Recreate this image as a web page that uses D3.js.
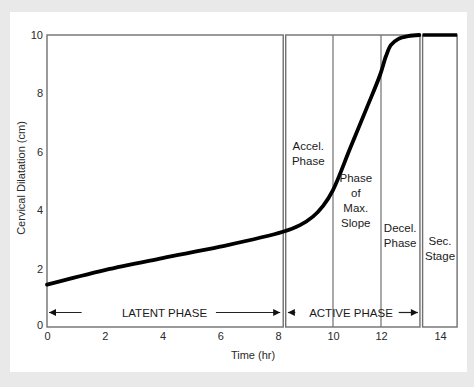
<!DOCTYPE html>
<html>
<head>
<meta charset="utf-8">
<script src="https://cdn.jsdelivr.net/npm/d3@7"></script>
<style>
  body { margin: 0; background: #e9e9e9; }
  svg { display: block; font-family: "Liberation Sans", Arial, sans-serif; }
</style>
</head>
<body>
<div id="chart"></div>
<script>
// data
const xTicks = [0, 2, 4, 6, 8, 10, 12, 14];
const yTicks = [0, 2, 4, 6, 8, 10];
const curveHours = [0, 2, 4, 6, 8.18, 8.8, 9.27, 9.64, 10.0, 10.71, 11.42, 11.96, 12.17, 12.34, 12.58, 12.92, 13.3];
const curveCm    = [1.45, 1.95, 2.36, 2.75, 3.26, 3.49, 3.78, 4.15, 4.69, 6.11, 7.53, 8.63, 9.28, 9.66, 9.86, 9.96, 10];
const secStageHours = [13.41, 14.58];
const secStageCm = [10, 10];
// boxes: [start hr, end hr]
const boxes = [[0, 8.19], [8.28, 13.32], [13.41, 14.58]];
const dividers = [10, 12];
const phaseLabels = [
  { lines: ["Accel.", "Phase"], x: 9.1, y: 6.05 },
  { lines: ["Phase", "of", "Max.", "Slope"], x: 10.95, y: 4.95 },
  { lines: ["Decel.", "Phase"], x: 12.65, y: 3.25 },
  { lines: ["Sec.", "Stage"], x: 14.0, y: 2.8 }
];

const width = 474, height = 387;

const svg = d3.select("#chart").append("svg")
  .attr("width", width)
  .attr("height", height);

// white panel
svg.append("rect")
  .attr("x", 10).attr("y", 12)
  .attr("width", 457).attr("height", 360)
  .attr("fill", "#fff");

// hand-drawn axis is not perfectly even, so piecewise scale
const x = d3.scaleLinear()
  .domain([0, 8, 10, 12, 14])
  .range([47, 278, 333, 381, 440]);
const y = d3.scaleLinear()
  .domain([0, 10])
  .range([327, 35]);

const frame = "#707070";

// phase boxes
svg.append("g").selectAll("rect")
  .data(boxes)
  .join("rect")
  .attr("x", d => x(d[0]))
  .attr("y", y(10))
  .attr("width", d => x(d[1]) - x(d[0]))
  .attr("height", y(0) - y(10))
  .attr("fill", "none")
  .attr("stroke", frame)
  .attr("stroke-width", 1.4);

svg.append("g").selectAll("line")
  .data(dividers)
  .join("line")
  .attr("x1", d => x(d)).attr("x2", d => x(d))
  .attr("y1", y(10)).attr("y2", y(0))
  .attr("stroke", frame)
  .attr("stroke-width", 1.2);

// axes (labels only, no tick marks)
const xAxis = svg.append("g")
  .attr("transform", `translate(0,${y(0) + 5})`)
  .call(d3.axisBottom(x).tickValues(xTicks).tickSize(0).tickPadding(0));
const yAxis = svg.append("g")
  .attr("transform", `translate(${x(0) - 4},0)`)
  .call(d3.axisLeft(y).tickValues(yTicks).tickSize(0).tickPadding(0));
[xAxis, yAxis].forEach(a => {
  a.select(".domain").remove();
  a.selectAll("text")
    .attr("font-family", "Liberation Sans, Arial, sans-serif")
    .attr("font-size", 11)
    .attr("fill", "#2a2a2a");
});
yAxis.selectAll("text").filter(d => d === 0).attr("dy", "0.1em");

svg.append("text")
  .attr("x", 253).attr("y", 359)
  .attr("text-anchor", "middle")
  .attr("font-size", 11)
  .attr("fill", "#2a2a2a")
  .text("Time (hr)");

svg.append("text")
  .attr("transform", `translate(25,178) rotate(-90)`)
  .attr("text-anchor", "middle")
  .attr("font-size", 11)
  .attr("fill", "#2a2a2a")
  .text("Cervical Dilatation (cm)");

// dilatation curve
const line = d3.line()
  .x(d => x(d[0]))
  .y(d => y(d[1]))
  .curve(d3.curveCatmullRom.alpha(0.5));

svg.append("path")
  .datum(d3.zip(curveHours, curveCm))
  .attr("d", line)
  .attr("fill", "none")
  .attr("stroke", "#000")
  .attr("stroke-width", 3.8)
  .attr("stroke-linecap", "round");

svg.append("path")
  .datum(d3.zip(secStageHours, secStageCm))
  .attr("d", line)
  .attr("fill", "none")
  .attr("stroke", "#000")
  .attr("stroke-width", 3.4);

// phase labels inside boxes
phaseLabels.forEach(p => {
  const t = svg.append("text")
    .attr("text-anchor", "middle")
    .attr("font-size", 11.5)
    .attr("fill", "#1a1a1a");
  p.lines.forEach((s, i) => {
    t.append("tspan")
      .attr("x", x(p.x))
      .attr("y", y(p.y) + i * 15)
      .text(s);
  });
});

// arrow marker
const defs = svg.append("defs");
defs.append("marker")
  .attr("id", "arrow")
  .attr("viewBox", "0 0 10 10")
  .attr("refX", 10).attr("refY", 5)
  .attr("markerWidth", 9).attr("markerHeight", 7)
  .attr("markerUnits", "userSpaceOnUse")
  .attr("orient", "auto")
  .append("path")
  .attr("d", "M0,0L10,5L0,10Z")
  .attr("fill", "#111");

const arrowY = 312.5;
const arrows = [
  { from: 1.2, to: 0.07 }, { from: 5.85, to: 8.08 },
  { from: 8.63, to: 8.36 }, { from: 12.6, to: 13.25 }
];
svg.append("g").selectAll("line")
  .data(arrows)
  .join("line")
  .attr("x1", d => x(d.from)).attr("x2", d => x(d.to))
  .attr("y1", arrowY).attr("y2", arrowY)
  .attr("stroke", "#222")
  .attr("stroke-width", 1.2)
  .attr("marker-end", "url(#arrow)");

svg.append("text")
  .attr("x", 164.5).attr("y", arrowY + 4)
  .attr("text-anchor", "middle")
  .attr("font-size", 11.5)
  .attr("fill", "#1a1a1a")
  .text("LATENT PHASE");

svg.append("text")
  .attr("x", 351).attr("y", arrowY + 4)
  .attr("text-anchor", "middle")
  .attr("font-size", 11.5)
  .attr("fill", "#1a1a1a")
  .text("ACTIVE PHASE");
</script>
</body>
</html>
